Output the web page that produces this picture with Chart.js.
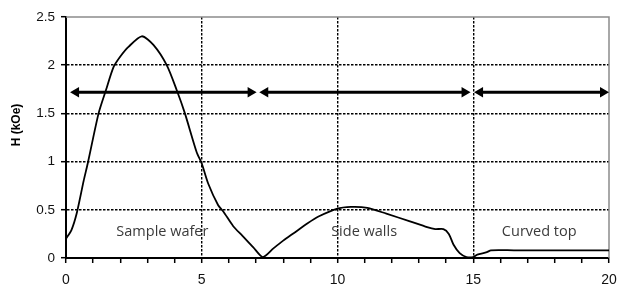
<!DOCTYPE html>
<html>
<head>
<meta charset="utf-8">
<script src="https://cdn.jsdelivr.net/npm/chart.js@4/dist/chart.umd.min.js"></script>
<style>
  html, body { margin: 0; padding: 0; background: #fff; }
  #wrap { width: 617px; height: 288px; position: relative; }
</style>
</head>
<body>
<div id="wrap"><canvas id="c" width="617" height="288"></canvas></div>
<script>
// ---- data ----
const positionX = [0, 0.2, 0.4, 0.65, 0.8, 1.2, 1.47, 1.75, 2.0, 2.3, 2.79, 3.22, 3.71, 4.08, 4.38, 4.81, 5.0, 5.24, 5.6, 5.8, 6.16, 6.5, 6.9, 7.25, 7.64, 8.0, 8.4, 8.9, 9.3, 9.97, 10.5, 11.1, 11.8, 12.67, 13.3, 13.6, 13.9, 14.1, 14.27, 14.5, 14.75, 15.0, 15.15, 15.5, 15.65, 16.5, 18, 20];
const fieldH    = [0.20, 0.29, 0.47, 0.80, 0.98, 1.50, 1.74, 1.98, 2.09, 2.19, 2.30, 2.21, 2.00, 1.74, 1.50, 1.10, 0.98, 0.77, 0.55, 0.48, 0.33, 0.23, 0.11, 0.01, 0.10, 0.18, 0.26, 0.36, 0.43, 0.51, 0.53, 0.52, 0.46, 0.38, 0.32, 0.30, 0.30, 0.25, 0.14, 0.05, 0.01, 0.01, 0.035, 0.06, 0.08, 0.08, 0.08, 0.08];

const regionNames  = ['Sample wafer', 'Side walls', 'Curved top'];
const regionStart  = [0.37, 7.34, 15.25];
const regionEnd    = [6.80, 14.68, 19.78];
const arrowLevel   = 1.72;
const regionLabelX = [3.55, 10.98, 17.43];
const regionLabelY = 0.27;

const xTickValues = [0, 5, 10, 15, 20];
const yAxisTitle = 'H (kOe)';

// ---- build datasets ----
const curve = {
  type: 'line',
  data: positionX.map((x, i) => ({ x: x, y: fieldH[i] })),
  borderColor: '#000',
  borderWidth: 1.8,
  pointRadius: 0,
  tension: 0.25,
  fill: false,
  order: 1
};
const arrows = regionStart.map((s, i) => ({
  type: 'line',
  data: [{ x: s, y: arrowLevel }, { x: regionEnd[i], y: arrowLevel }],
  borderColor: '#000',
  borderWidth: 3,
  pointStyle: 'triangle',
  pointRadius: 6,
  pointRotation: [-90, 90],
  pointBackgroundColor: '#000',
  pointBorderColor: '#000',
  pointBorderWidth: 0,
  clip: false,
  order: 0
}));

const extras = {
  id: 'extras',
  beforeDatasetsDraw(chart) {
    const { ctx, chartArea: a } = chart;
    ctx.save();
    ctx.strokeStyle = '#8c8c8c';
    ctx.lineWidth = 1.5;
    ctx.beginPath();
    ctx.moveTo(a.left, a.top);
    ctx.lineTo(a.right, a.top);
    ctx.lineTo(a.right, a.bottom);
    ctx.stroke();
    ctx.restore();
  },
  afterDatasetsDraw(chart) {
    const { ctx, scales } = chart;
    ctx.save();
    ctx.fillStyle = '#3a3a3a';
    ctx.font = '14.5px "Open Sans"';
    ctx.textAlign = 'center';
    ctx.textBaseline = 'middle';
    regionNames.forEach((n, i) => {
      ctx.fillText(n, scales.x.getPixelForValue(regionLabelX[i]), scales.y.getPixelForValue(regionLabelY));
    });
    ctx.restore();
    ctx.save();
    ctx.fillStyle = '#000';
    ctx.font = 'bold 12px "Liberation Sans", Arial';
    ctx.textAlign = 'center';
    ctx.textBaseline = 'middle';
    ctx.translate(17, 125);
    ctx.rotate(-Math.PI / 2);
    ctx.fillText(yAxisTitle, 0, 0);
    ctx.restore();
  }
};

new Chart(document.getElementById('c'), {
  data: { datasets: [curve, ...arrows] },
  options: {
    responsive: false,
    animation: false,
    events: [],
    layout: { padding: { top: 17, right: 0, left: 0, bottom: 0 } },
    plugins: { legend: { display: false }, tooltip: { enabled: false } },
    scales: {
      x: {
        type: 'linear',
        min: 0, max: 20,
        afterFit: s => { s.height = 30; s.paddingRight = 8; },
        afterBuildTicks: s => { s.ticks = Array.from({ length: 21 }, (_, i) => ({ value: i })); },
        ticks: {
          autoSkip: false,
          maxRotation: 0,
          padding: 9,
          color: '#111',
          font: { family: '"Liberation Sans", Arial', size: 14 },
          callback: v => (xTickValues.includes(v) ? String(v) : '')
        },
        grid: {
          drawTicks: true,
          color: c => (c.tick && [5, 10, 15].includes(c.tick.value) ? '#000' : 'rgba(0,0,0,0)'),
          lineWidth: 1.4,
          tickColor: '#000',
          tickLength: 5,
          tickWidth: 1.5
        },
        border: { display: true, color: '#000', width: 2, dash: [2.5, 1.5] }
      },
      y: {
        type: 'linear',
        min: 0, max: 2.5,
        afterFit: s => { s.width = 66; },
        ticks: {
          stepSize: 0.5,
          padding: 6,
          color: '#111',
          font: { family: '"Liberation Sans", Arial', size: 13.5 },
          callback: v => String(v)
        },
        grid: {
          drawTicks: true,
          color: c => (c.tick && c.tick.value > 0 && c.tick.value < 2.5 ? '#000' : 'rgba(0,0,0,0)'),
          lineWidth: 1.4,
          tickColor: '#000',
          tickLength: 5,
          tickWidth: 1.5
        },
        border: { display: true, color: '#000', width: 2, dash: [2.5, 1.5] }
      }
    }
  },
  plugins: [extras]
});
</script>
</body>
</html>
